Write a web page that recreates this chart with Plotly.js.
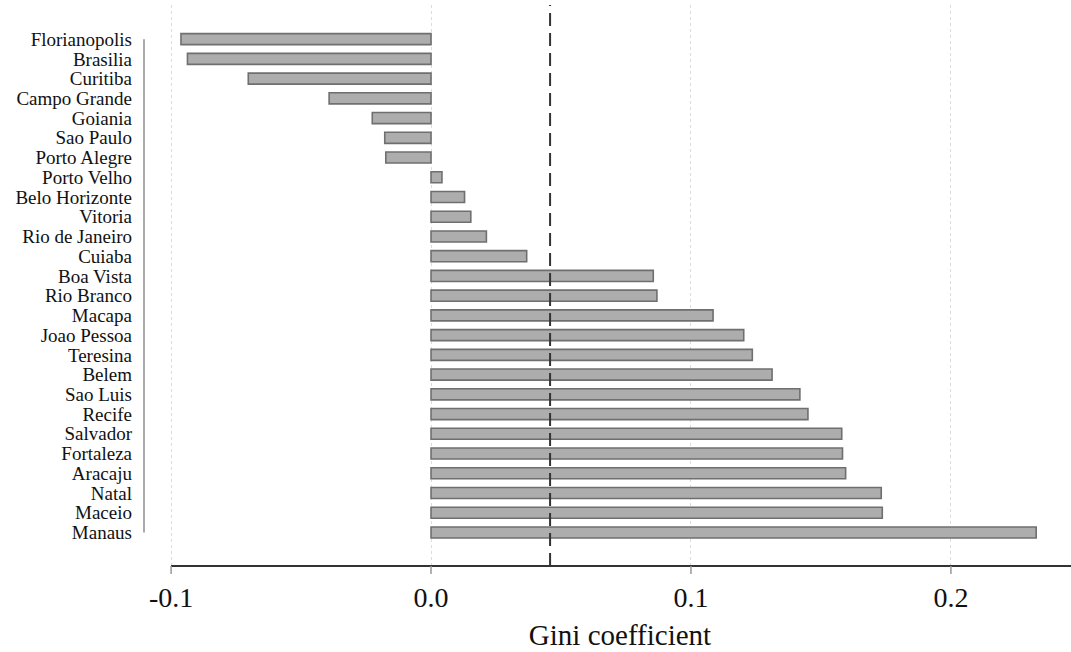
<!DOCTYPE html>
<html>
<head>
<meta charset="utf-8">
<script src="https://cdn.plot.ly/plotly-3.0.1.min.js"></script>
<style>
html,body{margin:0;padding:0;background:#fff;}
#chart{width:1071px;height:652px;}
</style>
</head>
<body>
<div id="chart"></div>
<script>
const cities = ["Florianopolis","Brasilia","Curitiba","Campo Grande","Goiania","Sao Paulo","Porto Alegre","Porto Velho","Belo Horizonte","Vitoria","Rio de Janeiro","Cuiaba","Boa Vista","Rio Branco","Macapa","Joao Pessoa","Teresina","Belem","Sao Luis","Recife","Salvador","Fortaleza","Aracaju","Natal","Maceio","Manaus"];
const gini = [-0.0962,-0.0937,-0.0703,-0.0392,-0.0226,-0.0178,-0.0174,0.0042,0.0129,0.0153,0.0213,0.0368,0.0855,0.0869,0.1085,0.1203,0.1236,0.1312,0.1419,0.1450,0.1580,0.1583,0.1595,0.1732,0.1736,0.2328];
const refLine = 0.0458;
const xTickVals = [-0.1, 0.0, 0.1, 0.2];
const xTickText = ["-0.1","0.0","0.1","0.2"];
const xTitle = "Gini coefficient";

const xRange = [-0.1008, 0.2462];
const W = 1071, H = 652, M = {l: 169, r: 0, t: 5, b: 86};
const plotH = H - M.t - M.b, plotW = W - M.l - M.r;

const trace = {
  type: 'bar',
  orientation: 'h',
  x: gini,
  y: cities,
  width: 0.56,
  marker: {color: '#adadad', line: {color: '#6f6f6f', width: 1.6}},
  hoverinfo: 'x+y'
};

const frac = v => (v - xRange[0]) / (xRange[1] - xRange[0]);
const tickShapes = xTickVals.map(v => ({
  type: 'line', xref: 'x domain', yref: 'paper', layer: 'above',
  x0: frac(v), x1: frac(v), y0: 0, y1: -8 / plotH, line: {color: '#999', width: 1.5}
}));

const layout = {
  width: W, height: H,
  margin: {l: M.l, r: M.r, t: M.t, b: M.b, pad: 0},
  paper_bgcolor: '#fff', plot_bgcolor: '#fff',
  showlegend: false,
  font: {family: 'Liberation Serif, Times New Roman, serif', color: '#111'},
  xaxis: {
    range: xRange,
    tickmode: 'array', tickvals: xTickVals, ticktext: xTickText,
    tickfont: {size: 28, family: 'Liberation Serif, serif', color: '#111'},
    ticks: '',
    showline: false, zeroline: false,
    showgrid: true, gridcolor: '#dcdcdc', gridwidth: 1, griddash: 'dot',
    ticklabelstandoff: 12,
    title: {text: xTitle, font: {size: 29, family: 'Liberation Serif, serif', color: '#111'}, standoff: 12}
  },
  yaxis: {
    type: 'category',
    categoryorder: 'array', categoryarray: cities,
    tickmode: 'array', tickvals: cities, ticktext: cities,
    range: [26.70, -1.73],
    tickfont: {size: 19, family: 'Liberation Serif, serif', color: '#111'},
    ticks: '', showline: false, showgrid: false, zeroline: false,
    ticklabelstandoff: 36
  },
  shapes: [
    {type: 'line', xref: 'x', yref: 'paper', x0: refLine, x1: refLine, y0: 0, y1: 1,
     line: {color: '#333', width: 2, dash: '13px,7px'}},
    {type: 'line', xref: 'x', yref: 'paper', x0: -0.1, x1: xRange[1], y0: 0, y1: 0,
     line: {color: '#333', width: 2}},
    {type: 'line', xref: 'paper', yref: 'y', x0: -25 / plotW, x1: -25 / plotW, y0: 0, y1: cities.length - 1,
     line: {color: '#aaa', width: 2}}
  ].concat(tickShapes)
};

Plotly.newPlot('chart', [trace], layout, {displayModeBar: false, staticPlot: true});
</script>
</body>
</html>
